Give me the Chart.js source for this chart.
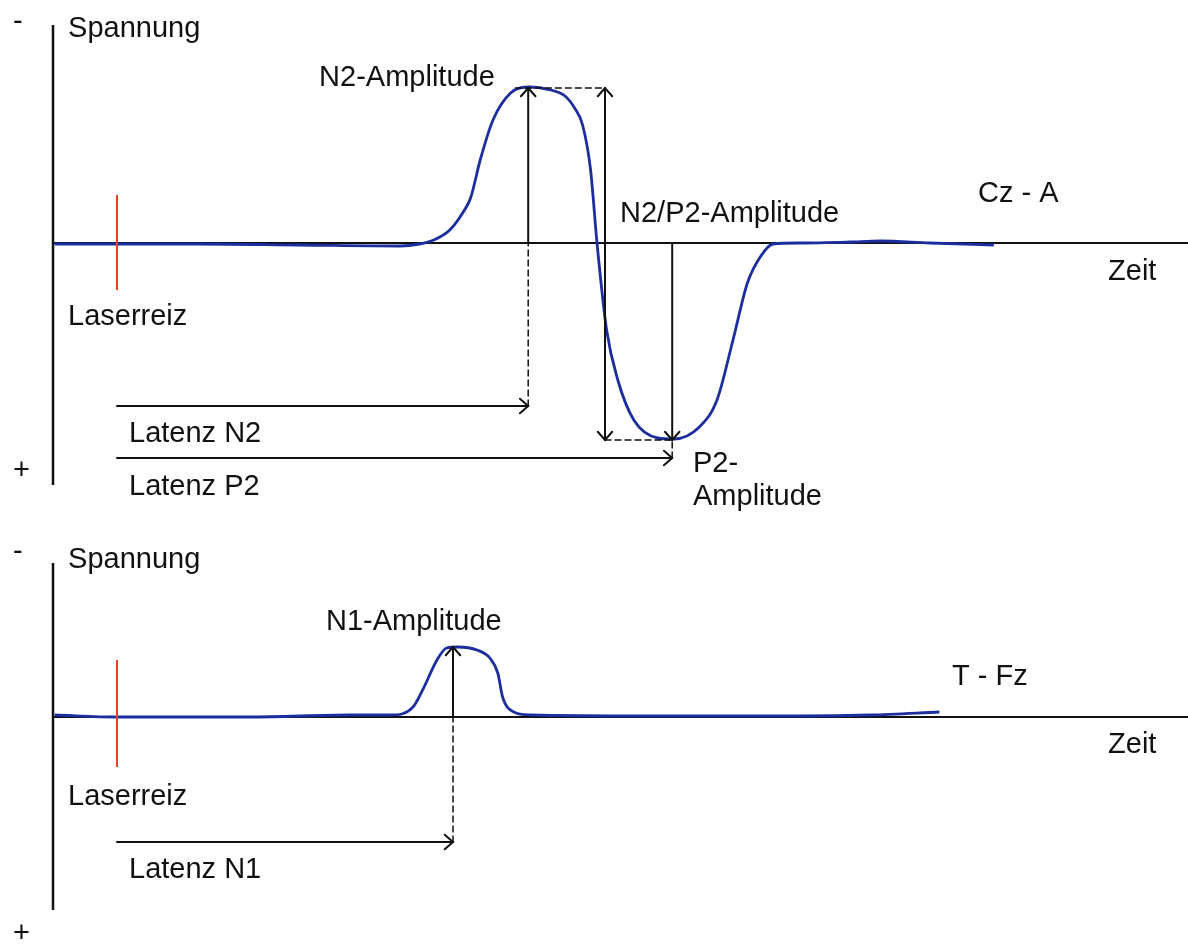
<!DOCTYPE html>
<html>
<head>
<meta charset="utf-8">
<script src="https://cdn.jsdelivr.net/npm/chart.js@4"></script>
<style>
    html, body { margin: 0; padding: 0; background: #fff; }
    #wrap { width: 1188px; height: 945px; position: relative; }
</style>
</head>
<body>
<div id="wrap"><canvas id="lep" width="1188" height="945"></canvas></div>
<script>
// Zeit in ms (0 = Laserreiz), Spannung in µV (negativ nach oben)
const timeCz = [-39, 52, 114, 177, 189, 198, 208, 216, 221, 227, 235, 246, 258, 271, 280, 286, 291, 296, 300, 306, 313, 323, 338, 348, 364, 375, 385, 394, 402, 410, 427, 458, 477, 508, 548];
const voltCz = [0.1, 0.1, 0.2, 0.3, 0.1, -0.3, -1.3, -3.0, -4.5, -8.3, -12.3, -15.0, -15.6, -15.3, -14.7, -13.5, -11.8, -7.3, 0, 8.7, 13.7, 17.7, 19.5, 19.6, 18.4, 15.7, 9.7, 4.0, 1.4, 0.1, 0, -0.1, -0.2, 0, 0.2];

const timeFz = [-39, 0, 83, 146, 171, 185, 191, 200, 206, 213, 225, 233, 238, 241, 248, 258, 333, 427, 471, 514];
const voltFz = [-0.2, 0, 0, -0.2, -0.2, -1.0, -2.7, -5.7, -6.9, -7.0, -6.7, -5.9, -4.4, -2.0, -0.5, -0.2, -0.1, -0.1, -0.2, -0.5];

// Peaks: N2, P2 (Cz - A) und N1 (T - Fz)
const peakLabels = ['N2', 'P2', 'N1'];
const peakLatency = [257, 347, 210];
const peakAmplitude = [-15.5, 19.7, -7.0];
const latencyArrowLevel = [16.3, 21.5, 12.5];
const n2p2ArrowTime = 305;

const BLACK = '#111';
const BLUE = '#1c2d9e';
const RED = '#ee3b24';
const FONT = '29px "Liberation Sans", Arial, Helvetica, sans-serif';

function toPoints(xs, ys) {
    return xs.map((x, i) => ({ x: x, y: ys[i] }));
}

function arrow(ctx, x1, y1, x2, y2, headStart, headEnd) {
    ctx.beginPath();
    ctx.moveTo(x1, y1);
    ctx.lineTo(x2, y2);
    ctx.stroke();
    const a = Math.atan2(y2 - y1, x2 - x1);
    const len = 11, spread = 0.72;
    const head = (x, y, ang) => {
        ctx.beginPath();
        ctx.moveTo(x - len * Math.cos(ang - spread), y - len * Math.sin(ang - spread));
        ctx.lineTo(x, y);
        ctx.lineTo(x - len * Math.cos(ang + spread), y - len * Math.sin(ang + spread));
        ctx.stroke();
    };
    if (headEnd) head(x2, y2, a);
    if (headStart) head(x1, y1, a + Math.PI);
}

function dashed(ctx, x1, y1, x2, y2) {
    ctx.save();
    ctx.setLineDash([6, 4]);
    ctx.lineWidth = 1.5;
    ctx.beginPath();
    ctx.moveTo(x1, y1);
    ctx.lineTo(x2, y2);
    ctx.stroke();
    ctx.restore();
}

// axes and frame of both panels
const axesPlugin = {
    id: 'axesPlugin',
    beforeDatasetsDraw(chart) {
        const ctx = chart.ctx;
        const X = chart.scales.x;
        const x0 = X.getPixelForValue(-40);
        ctx.save();
        ctx.strokeStyle = BLACK;
        [['yCz', -21.8, 24.2], ['yFz', -15.4, 19.3]].forEach(([axis, top, bottom]) => {
            const Y = chart.scales[axis];
            ctx.lineWidth = 2.5;
            ctx.beginPath();
            ctx.moveTo(x0, Y.getPixelForValue(top));
            ctx.lineTo(x0, Y.getPixelForValue(bottom));
            ctx.stroke();
            ctx.lineWidth = 2;
            ctx.beginPath();
            ctx.moveTo(x0, Y.getPixelForValue(0));
            ctx.lineTo(chart.chartArea.right, Y.getPixelForValue(0));
            ctx.stroke();
        });
        ctx.restore();
    },
    afterDatasetsDraw(chart) {
        const ctx = chart.ctx;
        const X = chart.scales.x;
        const yC = chart.scales.yCz;
        const yF = chart.scales.yFz;
        const t0 = X.getPixelForValue(0);
        ctx.save();

        // Laserreiz
        ctx.strokeStyle = RED;
        ctx.lineWidth = 2;
        ctx.beginPath();
        ctx.moveTo(t0, yC.getPixelForValue(-4.8));
        ctx.lineTo(t0, yC.getPixelForValue(4.7));
        ctx.moveTo(t0, yF.getPixelForValue(-5.7));
        ctx.lineTo(t0, yF.getPixelForValue(5.0));
        ctx.stroke();

        ctx.strokeStyle = BLACK;
        ctx.lineWidth = 2;
        ctx.lineCap = 'round';

        // N2
        const xN2 = X.getPixelForValue(peakLatency[0]);
        const yN2 = yC.getPixelForValue(peakAmplitude[0]);
        arrow(ctx, t0, yC.getPixelForValue(latencyArrowLevel[0]), xN2, yC.getPixelForValue(latencyArrowLevel[0]), false, true);
        dashed(ctx, xN2, yC.getPixelForValue(latencyArrowLevel[0]), xN2, yC.getPixelForValue(0));
        arrow(ctx, xN2, yC.getPixelForValue(0), xN2, yN2, false, true);

        // P2
        const xP2 = X.getPixelForValue(peakLatency[1]);
        const yP2 = yC.getPixelForValue(peakAmplitude[1]);
        arrow(ctx, t0, yC.getPixelForValue(latencyArrowLevel[1]), xP2, yC.getPixelForValue(latencyArrowLevel[1]), false, true);
        dashed(ctx, xP2, yC.getPixelForValue(latencyArrowLevel[1]), xP2, yP2);
        arrow(ctx, xP2, yC.getPixelForValue(0), xP2, yP2, false, true);

        // N2/P2
        const xNP = X.getPixelForValue(n2p2ArrowTime);
        arrow(ctx, xNP, yP2, xNP, yN2, true, true);
        dashed(ctx, X.getPixelForValue(peakLatency[0] - 8), yN2, xNP, yN2);
        dashed(ctx, xNP, yP2, xP2, yP2);

        // N1
        const xN1 = X.getPixelForValue(peakLatency[2]);
        const yN1 = yF.getPixelForValue(peakAmplitude[2]);
        arrow(ctx, t0, yF.getPixelForValue(latencyArrowLevel[2]), xN1, yF.getPixelForValue(latencyArrowLevel[2]), false, true);
        dashed(ctx, xN1, yF.getPixelForValue(latencyArrowLevel[2]), xN1, yF.getPixelForValue(0));
        arrow(ctx, xN1, yF.getPixelForValue(0), xN1, yN1, false, true);

        // labels
        const texts = [
            ['-', -65, -21.3, 'yCz'],
            ['Spannung', -30.6, -20.6, 'yCz'],
            [peakLabels[0] + '-Amplitude', 126.3, -15.7, 'yCz'],
            [peakLabels[0] + '/' + peakLabels[1] + '-Amplitude', 314.4, -2.1, 'yCz'],
            ['Cz - A', 538.1, -4.1, 'yCz'],
            ['Zeit', 619.4, 3.7, 'yCz'],
            ['Laserreiz', -30.6, 8.2, 'yCz'],
            ['Latenz ' + peakLabels[0], 7.5, 19.9, 'yCz'],
            ['Latenz ' + peakLabels[1], 7.5, 25.2, 'yCz'],
            ['+', -65, 23.6, 'yCz'],
            [peakLabels[1] + '-', 360, 22.9, 'yCz'],
            ['Amplitude', 360, 26.2, 'yCz'],
            ['-', -65, -15.7, 'yFz'],
            ['Spannung', -30.6, -14.9, 'yFz'],
            [peakLabels[2] + '-Amplitude', 130.6, -8.7, 'yFz'],
            ['T - Fz', 521.9, -3.2, 'yFz'],
            ['Zeit', 619.4, 3.6, 'yFz'],
            ['Laserreiz', -30.6, 8.8, 'yFz'],
            ['Latenz ' + peakLabels[2], 7.5, 16.1, 'yFz'],
            ['+', -65, 22.5, 'yFz']
        ];
        ctx.fillStyle = BLACK;
        ctx.font = FONT;
        ctx.textAlign = 'left';
        ctx.textBaseline = 'alphabetic';
        texts.forEach(([s, t, v, axis]) => {
            ctx.fillText(s, X.getPixelForValue(t), chart.scales[axis].getPixelForValue(v));
        });
        ctx.restore();
    }
};

new Chart(document.getElementById('lep'), {
    type: 'line',
    data: {
        datasets: [{
            label: 'Cz - A',
            data: toPoints(timeCz, voltCz),
            yAxisID: 'yCz',
            borderColor: BLUE,
            borderWidth: 2.8,
            pointRadius: 0,
            cubicInterpolationMode: 'monotone',
            fill: false
        }, {
            label: 'T - Fz',
            data: toPoints(timeFz, voltFz),
            yAxisID: 'yFz',
            borderColor: BLUE,
            borderWidth: 2.8,
            pointRadius: 0,
            cubicInterpolationMode: 'monotone',
            fill: false
        }]
    },
    options: {
        responsive: false,
        animation: false,
        devicePixelRatio: 1,
        layout: { padding: 0 },
        plugins: {
            legend: { display: false },
            tooltip: { enabled: false }
        },
        scales: {
            x: { type: 'linear', min: -73.125, max: 669.375, display: false },
            yCz: { type: 'linear', reverse: true, min: -24.3, max: 70.2, display: false },
            yFz: { type: 'linear', reverse: true, min: -71.7, max: 22.8, display: false }
        }
    },
    plugins: [axesPlugin]
});
</script>
</body>
</html>
